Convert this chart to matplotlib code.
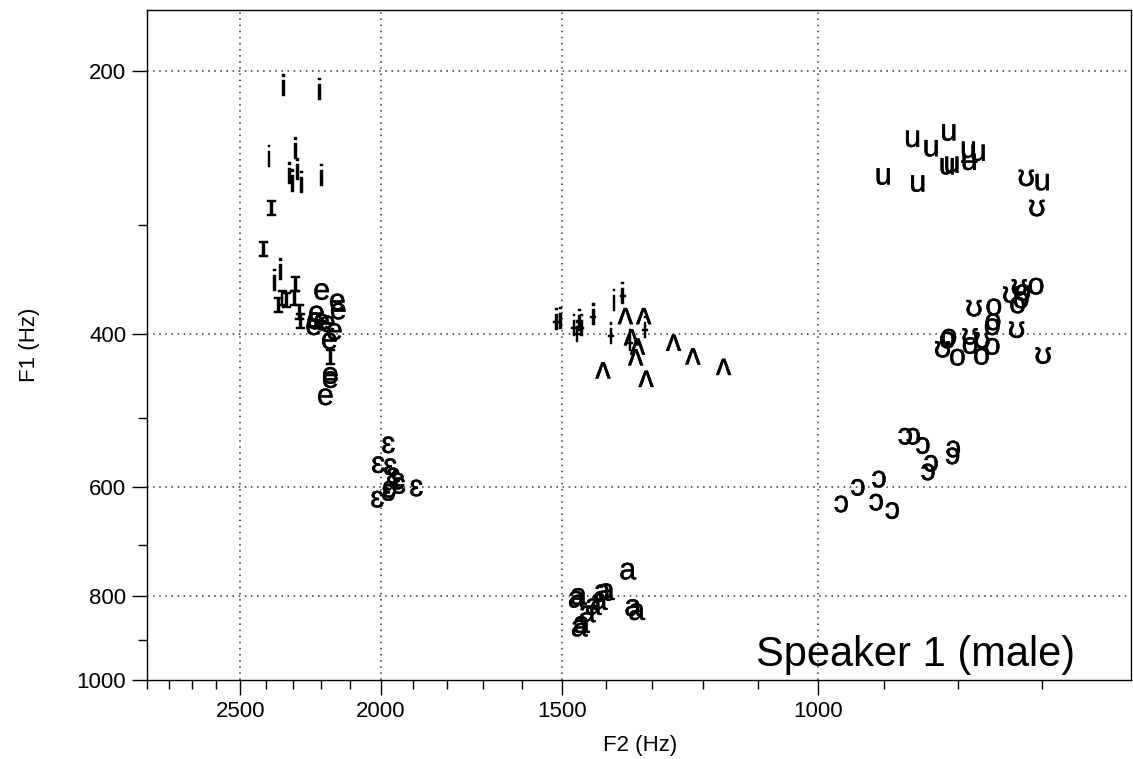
import matplotlib
matplotlib.use("Agg")
import matplotlib.pyplot as plt
import matplotlib.patheffects as pe
from matplotlib.ticker import FixedLocator, NullFormatter, FixedFormatter

plt.rcParams['font.family'] = ['Liberation Sans', 'DejaVu Sans']

# ---- data: (F2, F1) per vowel ----
i_f2 = [2336, 2205, 2390, 2290, 2313, 2302, 2285, 2270, 2198, 2369, 2347]
i_f1 = [209, 211, 252, 247, 264, 269, 261, 270, 265, 350, 340]

I_f2 = [2380, 2410, 2340, 2354, 2325, 2291, 2295, 2277, 2274, 2168]
I_f1 = [287, 320, 364, 371, 366, 351, 364, 378, 387, 426]

e_f2 = [2198, 2144, 2141, 2216, 2222, 2198, 2178, 2226, 2154, 2171, 2168, 2168, 2185]
e_f1 = [358, 368, 377, 380, 387, 388, 390, 393, 398, 408, 447, 452, 473]

eps_f2 = [1977, 2009, 1971, 1962, 1947, 1974, 1944, 1891, 2012, 1977]
eps_f1 = [537, 566, 569, 583, 591, 604, 598, 602, 620, 609]

ibar_f2 = [1514, 1472, 1465, 1455, 1428, 1388, 1363, 1315, 1347]
ibar_f1 = [388, 394, 401, 394, 383, 403, 362, 396, 410]

i2_f2 = [1505, 1460, 1382]
i2_f1 = [387, 389, 369]

wedge_f2 = [1357, 1318, 1344, 1331, 1335, 1257, 1219, 1161, 1406, 1313]
wedge_f1 = [382, 382, 404, 414, 426, 410, 425, 437, 441, 451]

a_f2 = [1352, 1462, 1467, 1408, 1399, 1415, 1428, 1442, 1455, 1460, 1341, 1333]
a_f1 = [750, 802, 808, 794, 792, 813, 824, 840, 864, 872, 826, 835]

u_f2 = [901, 853, 860, 835, 812, 814, 808, 787, 775, 700]
u_f1 = [264, 269, 239, 245, 235, 257, 256, 246, 248, 268]

ubar_f2 = [786]
ubar_f1 = [254]

hs_f2 = [718, 706, 726, 736, 780, 729, 820, 785, 770, 699]
hs_f1 = [265, 287, 354, 361, 374, 396, 417, 403, 407, 424]

o_f2 = [707, 722, 724, 728, 756, 757, 758, 812, 814, 801, 785, 771, 758]
o_f1 = [353, 359, 366, 371, 373, 388, 393, 404, 407, 426, 413, 425, 414]

oo_f2 = [870, 859, 846, 806, 807, 835, 839, 907, 938, 963, 911, 888]
oo_f1 = [525, 525, 538, 543, 553, 564, 577, 588, 601, 628, 625, 639]

groups = [
    ("i", i_f2, i_f1), ("ɪ", I_f2, I_f1), ("e", e_f2, e_f1),
    ("ɛ", eps_f2, eps_f1), ("ɨ", ibar_f2, ibar_f1), ("i", i2_f2, i2_f1),
    ("ʌ", wedge_f2, wedge_f1), ("a", a_f2, a_f1), ("u", u_f2, u_f1),
    ("ʉ", ubar_f2, ubar_f1), ("ʊ", hs_f2, hs_f1), ("o", o_f2, o_f1),
    ("ɔ", oo_f2, oo_f1),
]

x_major = [2500, 2000, 1500, 1000]
x_minor = [2900, 2800, 2700, 2600, 2400, 2300, 2200, 2100, 1900, 1800,
           1700, 1600, 1400, 1300, 1200, 1100, 900, 800, 700]
y_major = [200, 400, 600, 800, 1000]
y_minor = [300, 500, 700, 900]
y_grid = [200, 400, 600, 800]

fig = plt.figure(figsize=(11.33, 7.59), dpi=100)
ax = fig.add_axes([147/1133, 1-680/759, (1131-147)/1133, (680-10)/759])
ax.set_xscale('log')
ax.set_yscale('log')
ax.set_xlim(2900, 608)
ax.set_ylim(1000, 170)

for x in x_major:
    ax.axvline(x, color='#333333', lw=1.1, ls=(0, (1, 3)), zorder=0)
for y in y_grid:
    ax.axhline(y, color='#333333', lw=1.1, ls=(0, (1, 3)), zorder=0)

stroke = [pe.withStroke(linewidth=0.3, foreground='black')]
for sym, f2s, f1s in groups:
    for f2, f1 in zip(f2s, f1s):
        ax.text(f2, f1, sym, fontsize=22, ha='center', va='center',
                color='black', path_effects=stroke)

ax.xaxis.set_major_locator(FixedLocator(x_major))
ax.xaxis.set_major_formatter(FixedFormatter([str(v) for v in x_major]))
ax.xaxis.set_minor_locator(FixedLocator(x_minor))
ax.xaxis.set_minor_formatter(NullFormatter())
ax.yaxis.set_major_locator(FixedLocator(y_major))
ax.yaxis.set_major_formatter(FixedFormatter([str(v) for v in y_major]))
ax.yaxis.set_minor_locator(FixedLocator(y_minor))
ax.yaxis.set_minor_formatter(NullFormatter())

ax.tick_params(which='major', length=11, width=1, labelsize=16, pad=4, direction='out')
ax.tick_params(which='minor', length=6.5, width=1, direction='out')
for s in ax.spines.values():
    s.set_linewidth(1)

fig.text(640/1133, 1-746/759, "F2 (Hz)", fontsize=16, ha='center', va='center')
fig.text(30/1133, 1-345/759, "F1 (Hz)", fontsize=16, ha='center', va='center', rotation=90)

fig.text(1075/1133, 1-666/759, "Speaker 1 (male)", fontsize=30, ha='right', va='baseline')

fig.savefig("out.png", dpi=100)
